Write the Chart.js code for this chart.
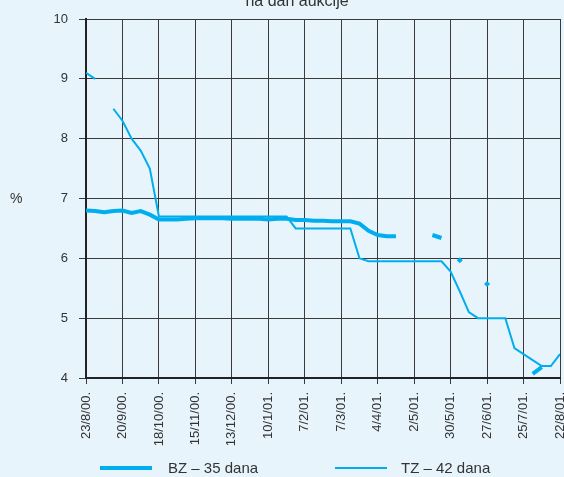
<!DOCTYPE html>
<html>
<head>
<meta charset="utf-8">
<script src="https://cdn.jsdelivr.net/npm/chart.js@4.4.0/dist/chart.umd.min.js"></script>
<style>
  body { margin:0; background:#e8f4fc; font-family:"Liberation Sans", Arial, sans-serif; color:#333; }
  #wrap { position:relative; width:564px; height:477px; overflow:hidden; background:#e8f4fc; }
  #wrap canvas { position:absolute; left:0; top:0; }
  .lbl { position:absolute; white-space:nowrap; }
  .swatch { position:absolute; background:#00aeef; }
</style>
</head>
<body>
<div id="wrap">
  <canvas id="chart" width="564" height="477"></canvas>
  <div class="lbl" style="left:297px;top:-7px;font-size:16px;line-height:16px;transform:translateX(-50%)">na dan aukcije</div>
  <div class="lbl" style="left:10px;top:190px;font-size:14px;line-height:16px">%</div>
  <div class="swatch" style="left:100px;top:466px;width:52px;height:4px"></div>
  <div class="lbl" style="left:168px;top:459px;font-size:15px;line-height:18px">BZ – 35 dana</div>
  <div class="swatch" style="left:335px;top:467px;width:52px;height:2px"></div>
  <div class="lbl" style="left:401px;top:459px;font-size:15px;line-height:18px">TZ – 42 dana</div>
</div>
<script>
// tick labels, every 4 weeks
const dateLabels = ['23/8/00.','20/9/00.','18/10/00.','15/11/00.','13/12/00.','10/1/01.','7/2/01.',
  '7/3/01.','4/4/01.','2/5/01.','30/5/01.','27/6/01.','25/7/01.','22/8/01.'];

// weekly auction rates, week 0 = 23/8/00. (null = no auction)
const bz35 = [6.80,6.79,6.77,6.79,6.80,6.76,6.79,6.73,6.65,6.65,
  6.65,6.66,6.67,6.67,6.67,6.67,6.66,6.66,6.66,6.66,
  6.65,6.66,6.66,6.64,6.64,6.63,6.63,6.62,6.62,6.62,
  6.58,6.46,6.39,6.37,6.37,null,null,null,6.39,6.34,
  null,5.97,null,null,5.57,null,null,null,null,4.07,
  4.18,null,null];
const tz42 = [9.10,9.00,null,8.50,8.30,8.00,7.80,7.50,6.70,6.70,
  6.70,6.70,6.70,6.70,6.70,6.70,6.70,6.70,6.70,6.70,
  6.70,6.70,6.70,6.50,6.50,6.50,6.50,6.50,6.50,6.50,
  6.00,5.95,5.95,5.95,5.95,5.95,5.95,5.95,5.95,5.95,
  5.78,5.45,5.10,5.00,5.00,5.00,5.00,4.50,4.40,4.30,
  4.20,4.20,4.40];

const toPoints = arr => arr.map((y, i) => ({ x: i, y: y }));

// single auctions with no neighbours get a small diamond
function isolated(ctx){
  const d = ctx.dataset.data, i = ctx.dataIndex;
  if (!d[i] || d[i].y === null) return false;
  const prev = i > 0 ? d[i-1].y : null;
  const next = i < d.length-1 ? d[i+1].y : null;
  return prev === null && next === null;
}

const blue = '#00aeef';
const gridCol = '#3a3a3a';

new Chart(document.getElementById('chart'), {
  type: 'line',
  data: {
    datasets: [
      { label:'BZ – 35 dana', data: toPoints(bz35), borderColor: blue, backgroundColor: blue,
        borderWidth: 4, tension: 0, spanGaps: false,
        pointRadius: ctx => isolated(ctx) ? 3 : 0, pointStyle:'rectRot', pointBorderWidth:0 },
      { label:'TZ – 42 dana', data: toPoints(tz42), borderColor: blue, backgroundColor: blue,
        borderWidth: 2, tension: 0, spanGaps: false, pointRadius: 0 }
    ]
  },
  options: {
    responsive: false,
    animation: false,
    layout: { padding: { left:0, right:4, top:19, bottom:0 } },
    plugins: { legend: { display:false }, tooltip: { enabled:false } },
    scales: {
      x: {
        type: 'linear', min: 0, max: 52,
        afterFit: s => { s.height = 99; s.paddingLeft = 0; s.paddingRight = 0; },
        afterBuildTicks: s => { s.ticks = dateLabels.map((_, i) => ({ value: i*4 })); },
        ticks: {
          autoSkip: false, maxRotation: 90, minRotation: 90, padding: 8,
          color: '#333', font: { size: 13, family: '"Liberation Sans", Arial, sans-serif' },
          callback: v => dateLabels[v/4]
        },
        grid: { color: gridCol, lineWidth: 1, tickLength: 6 },
        border: { display: true, color: '#222', width: 2 }
      },
      y: {
        min: 4, max: 10,
        afterFit: s => { s.width = 86; s.paddingTop = 0; s.paddingBottom = 0; },
        ticks: { stepSize: 1, padding: 11, color: '#333',
          font: { size: 13, family: '"Liberation Sans", Arial, sans-serif' } },
        grid: { color: gridCol, lineWidth: 1, tickLength: 7 },
        border: { display: true, color: '#222', width: 2 }
      }
    }
  }
});
</script>
</body>
</html>
